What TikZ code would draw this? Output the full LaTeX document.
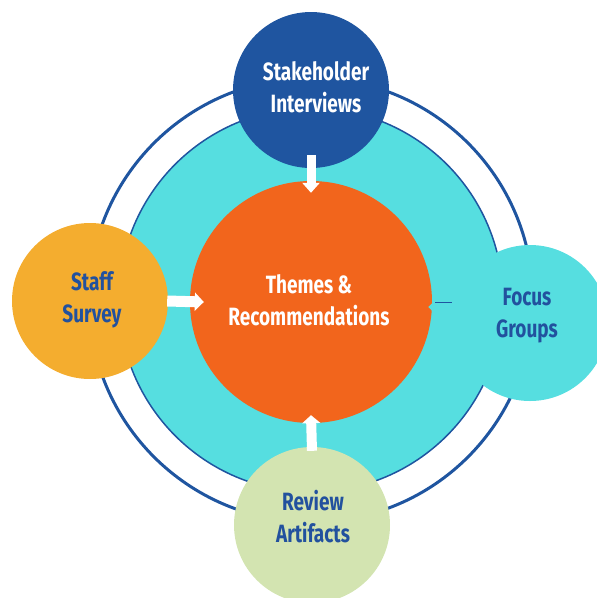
\documentclass[tikz,border=0pt]{standalone}
\usepackage{fontspec}
\setmainfont{Fira Sans}[FakeStretch=0.76]
\usetikzlibrary{arrows.meta}
\definecolor{ringblue}{HTML}{1F55A0}
\definecolor{textblue}{HTML}{22519E}
\definecolor{themeorange}{HTML}{F2651C}
\definecolor{surveyyellow}{HTML}{F4AD2F}
\definecolor{focuscyan}{HTML}{56DEE0}
\definecolor{reviewgreen}{HTML}{D3E4B1}

\begin{document}
\begin{tikzpicture}[x=1pt,y=-1pt,
    bubble/.style={circle,minimum size=156pt,inner sep=0pt},
    caption/.style={align=center,inner sep=0pt,font=\bfseries\fontsize{25}{32}\selectfont},
    flow/.style={white,line width=10pt,-{Triangle[width=18pt,length=10pt]}}]
    \useasboundingbox (0,0) rectangle (597,598);
    \clip (0,0) rectangle (597,598);

    \draw[ringblue, line width=3pt] (311,300) circle[radius=222pt];
    \draw[ringblue, fill=focuscyan, line width=1.5pt] (311,300) circle[radius=192pt];

    \node[bubble, fill=themeorange, minimum size=242pt] (core) at (311,302) {};
    \node[bubble, fill=ringblue] (stake) at (311,90) {};
    \node[bubble, fill=surveyyellow] (survey) at (90,301) {};
    \node[bubble, fill=reviewgreen] (review) at (312,525) {};
    \node[bubble, fill=focuscyan] (focus) at (530,323) {};

    \node[caption, text=white] at (316,87) {Stakeholder\\Interviews};
    \node[caption, text=white] at (309,300) {Themes \&\\Recommendations};
    \node[caption, text=textblue] at (92,300) {Staff\\Survey};
    \node[caption, text=textblue] at (527,316) {Focus\\Groups};
    \node[caption, text=textblue] at (313,517) {Review\\Artifacts};

    \draw[flow, line width=9pt, -{Triangle[width=17pt,length=10pt]}] ([shift={(0,-13)}]stake.south) -- ([shift={(0,12)}]core.north);
    \draw[flow, line width=11pt, -{Triangle[width=18pt,length=9pt]}] ([shift={(-1,0)}]survey.east) -- ([shift={(14,0)}]core.west);
    \draw[flow, -{Triangle[width=18pt,length=8pt]}] ([shift={(0,4)}]review.north) -- ([shift={(0,-8)}]core.south);
    \draw[flow, focuscyan] ([shift={(10,5)}]core.east -| focus.west) -- ([shift={(-4,5)}]core.east);
    \draw[ringblue, line width=0.8pt] ([xshift=3pt]core.east) -- (core.east -| focus.west);

\end{tikzpicture}
\end{document}
